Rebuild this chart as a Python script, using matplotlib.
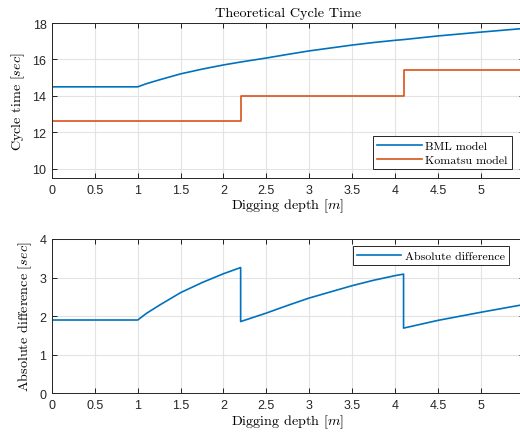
import numpy as np
import matplotlib
matplotlib.use("Agg")
import matplotlib.pyplot as plt

# ---- data ----
depth_bml = [0.0, 1.0, 1.1, 1.25, 1.5, 1.75, 2.0, 2.2, 2.5, 2.75, 3.0, 3.25, 3.5,
             3.75, 4.0, 4.1, 4.5, 5.0, 5.5]
cycle_bml = [14.5, 14.5, 14.67, 14.88, 15.21, 15.47, 15.70, 15.86, 16.08, 16.28,
             16.47, 16.63, 16.79, 16.93, 17.05, 17.09, 17.29, 17.50, 17.70]

depth_kom = [0.0, 2.2, 2.2, 4.1, 4.1, 5.5]
cycle_kom = [12.6, 12.6, 14.0, 14.0, 15.4, 15.4]

xticks = [0, 0.5, 1, 1.5, 2, 2.5, 3, 3.5, 4, 4.5, 5]
xticklabels = ["0", "0.5", "1", "1.5", "2", "2.5", "3", "3.5", "4", "4.5", "5"]
yticks_top = [10, 12, 14, 16, 18]
yticks_bot = [0, 1, 2, 3, 4]

# absolute difference between the two models, evaluated at the read points
step_x = [2.2, 4.1]
xs, ds = [], []
for x, b in zip(depth_bml, cycle_bml):
    k_left = np.interp(x - 1e-9, depth_kom, cycle_kom)
    k_right = np.interp(x + 1e-9, depth_kom, cycle_kom)
    if x in step_x:
        xs += [x, x]
        ds += [b - k_left, b - k_right]
    else:
        xs.append(x)
        ds.append(b - k_left)

BLUE = "#0072BD"
ORANGE = "#D95319"

plt.rcParams["mathtext.fontset"] = "cm"
serif = "cmr10"
tickfont = "Liberation Sans"

fig = plt.figure(figsize=(5.2, 4.35), dpi=100)
W = 471.6 / 520
ax1 = fig.add_axes([52 / 520, 1 - 179 / 435, W, 155 / 435])
ax2 = fig.add_axes([52 / 520, 1 - 394.3 / 435, W, 154.3 / 435])

def style(ax):
    ax.set_xlim(0, 5.5)
    ax.set_xticks(xticks)
    ax.set_xticklabels(xticklabels)
    ax.grid(True, color="#e3e3e3", linewidth=0.8)
    ax.set_axisbelow(True)
    ax.tick_params(direction="in", top=True, right=True, length=3.5, width=0.6,
                   labelsize=9, pad=4)
    for lab in ax.get_xticklabels() + ax.get_yticklabels():
        lab.set_family(tickfont)
        lab.set_color("#262626")
    for sp in ax.spines.values():
        sp.set_linewidth(0.7)
        sp.set_color("#262626")

leg_kw = dict(prop={"family": serif, "size": 8.6}, fancybox=False,
              edgecolor="#262626", framealpha=1, handlelength=3.7,
              borderpad=0.35, labelspacing=0.3, handletextpad=0.3,
              borderaxespad=0)

ax1.plot(depth_bml, cycle_bml, color=BLUE, lw=1.2, label="BML model")
ax1.plot(depth_kom, cycle_kom, color=ORANGE, lw=1.2, label="Komatsu model")
ax1.set_ylim(9.5, 18)
ax1.set_yticks(yticks_top)
style(ax1)
ax1.set_title("Theoretical Cycle Time", family=serif, fontsize=10.2, pad=5)
ax1.set_xlabel(r"Digging depth $[m]$", family=serif, fontsize=10.2, labelpad=1)
ax1.set_ylabel(r"Cycle time $[sec]$", family=serif, fontsize=10.2, labelpad=4)
leg1 = ax1.legend(loc="lower right", bbox_to_anchor=(0.975, 0.058), **leg_kw)
leg1.get_frame().set_linewidth(0.7)

ax2.plot(xs, ds, color=BLUE, lw=1.2, label="Absolute difference")
ax2.set_ylim(0, 4)
ax2.set_yticks(yticks_bot)
style(ax2)
ax2.set_xlabel(r"Digging depth $[m]$", family=serif, fontsize=10.2, labelpad=1)
ax2.set_ylabel(r"Absolute difference $[sec]$", family=serif, fontsize=10.2, labelpad=4)
leg2 = ax2.legend(loc="upper right", bbox_to_anchor=(0.969, 0.953), **leg_kw)
leg2.get_frame().set_linewidth(0.7)

fig.savefig("out.png", dpi=100)
